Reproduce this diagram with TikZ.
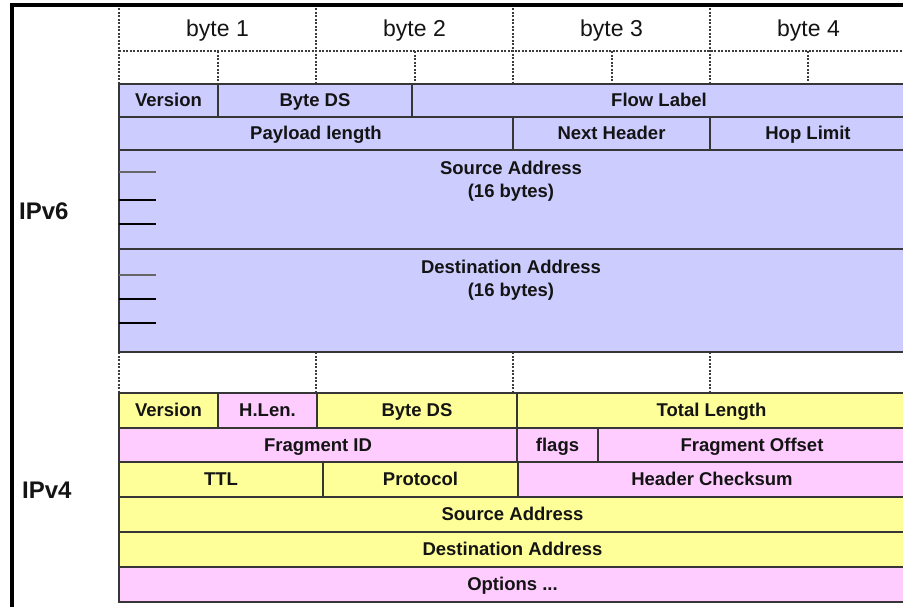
\documentclass[tikz,border=0pt]{standalone}
\usepackage{fontspec}
\setmainfont{Liberation Sans}
\definecolor{lav}{HTML}{CCCCFF}
\definecolor{yel}{HTML}{FFFF99}
\definecolor{pnk}{HTML}{FFCCFF}
\definecolor{linec}{HTML}{363636}
\definecolor{txt}{HTML}{141414}
\definecolor{dotc}{HTML}{3C3C3C}
\begin{document}
\begin{tikzpicture}[x=1pt,y=-1pt,
  cell/.style={draw=linec, line width=1.6pt, inner sep=0pt, outer sep=0pt, anchor=north west,
    font=\fontsize{18.5}{20}\selectfont\bfseries, text=txt, text height=13pt, text depth=0.8pt},
  v6/.style={cell, fill=lav},
  ycell/.style={cell, fill=yel},
  pcell/.style={cell, fill=pnk},
  celltext/.style={font=\fontsize{18.5}{23}\selectfont\bfseries, text=txt, align=center, inner sep=0pt},
  dotline/.style={draw=dotc, line width=1.4pt, dash pattern=on 2pt off 1.5pt},
  tickA/.style={draw=black!60, line width=2.5pt},
  tickB/.style={draw=black, line width=1.3pt},
  frameline/.style={draw=black, line width=3.5pt},
  bytelab/.style={font=\fontsize{23}{25}\selectfont, text=txt, inner sep=0pt},
  iplab/.style={font=\fontsize{24}{26}\selectfont\bfseries, text=txt, anchor=west, inner sep=0pt}]
\useasboundingbox (0,0) rectangle (903,606);
\clip (0,0) rectangle (903,606);
\fill[white] (0,0) rectangle (903,606);

% header grid
\foreach \x in {119,316,513,710} \draw[dotline] (\x,8) -- (\x,84);
\foreach \x in {218,415,612,808} \draw[dotline] (\x,51) -- (\x,84);
\draw[dotline] (119,51) -- (906,51);
\node[bytelab] (b1) at (217.5,31) {byte 1};
\node[bytelab] (b2) at (414.5,31) {byte 2};
\node[bytelab] (b3) at (611.5,31) {byte 3};
\node[bytelab] (b4) at (808.5,31) {byte 4};

% gap dashes
\foreach \x in {119,316,513,710} \draw[dotline] (\x,352) -- (\x,393);

% IPv6
\node[v6, minimum width=99pt, minimum height=33pt] (v6ver) at (119,84) {Version};
\node[v6, minimum width=194pt, minimum height=33pt] (v6ds) at (218,84) {Byte DS};
\node[v6, minimum width=494pt, minimum height=33pt] (v6flow) at (412,84) {Flow Label};
\node[v6, minimum width=394pt, minimum height=33pt] (v6pay) at (119,117) {Payload length};
\node[v6, minimum width=197pt, minimum height=33pt] (v6nh) at (513,117) {Next Header};
\node[v6, minimum width=196pt, minimum height=33pt] (v6hop) at (710,117) {Hop Limit};
\node[v6, minimum width=787pt, minimum height=99pt] (v6src) at (119,150) {};
\node[v6, minimum width=787pt, minimum height=103pt] (v6dst) at (119,249) {};
\node[celltext, anchor=north] (v6srct) at (511,161) {Source Address\\(16 bytes)};
\node[celltext, anchor=north] (v6dstt) at (511,260) {Destination Address\\(16 bytes)};
\draw[tickA] ([yshift=-22pt]v6src.north west) -- ++(37pt,0);
\draw[tickB] ([yshift=-50pt]v6src.north west) -- ++(37pt,0);
\draw[tickB] ([yshift=-74pt]v6src.north west) -- ++(37pt,0);
\draw[tickA] ([yshift=-26pt]v6dst.north west) -- ++(37pt,0);
\draw[tickB] ([yshift=-50pt]v6dst.north west) -- ++(37pt,0);
\draw[tickB] ([yshift=-74pt]v6dst.north west) -- ++(37pt,0);

% IPv4
\node[ycell, minimum width=99pt, minimum height=35pt] (v4ver) at (119,393) {Version};
\node[pcell, minimum width=99pt, minimum height=35pt] (v4hl) at (218,393) {H.Len.};
\node[ycell, minimum width=200pt, minimum height=35pt] (v4ds) at (317,393) {Byte DS};
\node[ycell, minimum width=389pt, minimum height=35pt] (v4tl) at (517,393) {Total Length};
\node[pcell, minimum width=398pt, minimum height=34pt] (v4fid) at (119,428) {Fragment ID};
\node[pcell, minimum width=81pt, minimum height=34pt] (v4fl) at (517,428) {flags};
\node[pcell, minimum width=308pt, minimum height=34pt] (v4fo) at (598,428) {Fragment Offset};
\node[ycell, minimum width=204pt, minimum height=35pt] (v4ttl) at (119,462) {TTL};
\node[ycell, minimum width=195pt, minimum height=35pt] (v4pr) at (323,462) {Protocol};
\node[pcell, minimum width=388pt, minimum height=35pt] (v4hc) at (518,462) {Header Checksum};
\node[ycell, minimum width=787pt, minimum height=35pt] (v4src) at (119,497) {Source Address};
\node[ycell, minimum width=787pt, minimum height=35pt] (v4dst) at (119,532) {Destination Address};
\node[pcell, minimum width=787pt, minimum height=35pt] (v4opt) at (119,567) {Options ...};

% side labels
\node[iplab] (ipv6) at (19,211) {IPv6};
\node[iplab] (ipv4) at (22,490) {IPv4};

% outer frame
\draw[frameline] (12,610) -- (12,5) -- (910,5);
\end{tikzpicture}
\end{document}
